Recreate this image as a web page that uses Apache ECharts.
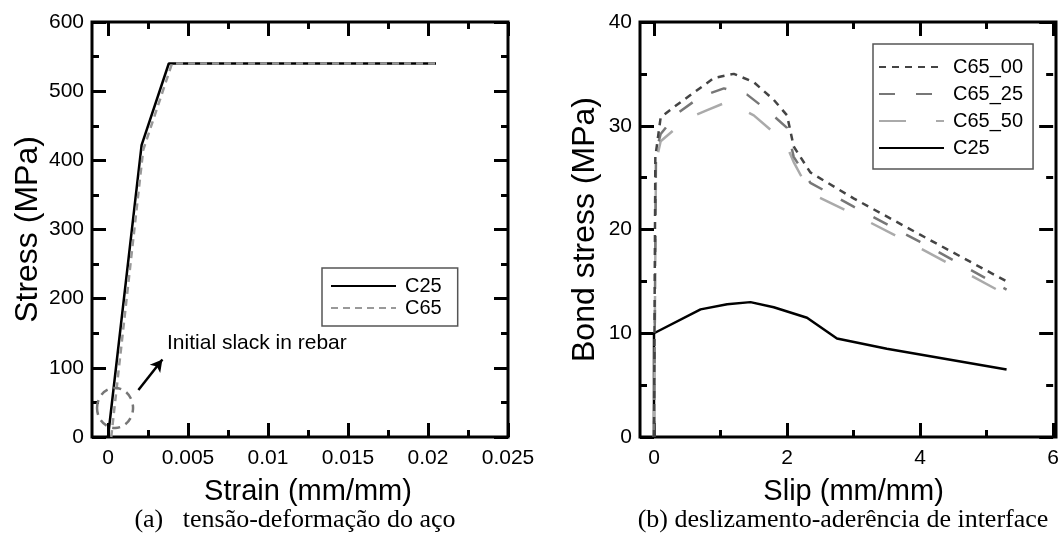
<!DOCTYPE html>
<html><head><meta charset="utf-8">
<script src="https://cdn.jsdelivr.net/npm/echarts@6/dist/echarts.min.js"></script>
<style>html,body{margin:0;padding:0;background:#fff}#c{width:1062px;height:540px}</style>
</head><body><div id="c"></div>
<script>
// ---- (a) steel stress-strain ----
const strainC25 = [0, 0.0021, 0.0038, 0.0205];
const stressC25 = [0, 422, 540, 540];
const strainC65 = [0.0002, 0.0022, 0.0040, 0.0205];
const stressC65 = [0, 415, 540, 540];
const strainTicks = [0, 0.025, 0.005];   // min, max, interval
const stressTicks = [0, 600, 100];
// annotation (data coordinates)
const slackEllipseCenter = [0.00044, 42];
const slackArrow = [[0.0019, 68], [0.0034, 112]];
const slackTextAnchor = [0.00369, 136];
const slackText = 'Initial slack in rebar';

// ---- (b) bond-slip ----
const slip00 = [0, 0.02, 0.1, 0.3, 0.6, 0.9, 1.2, 1.5, 1.8, 2.0, 2.1, 2.35, 3.0, 4.0, 5.3];
const bond00 = [0, 27, 30.8, 31.8, 33.2, 34.6, 35.0, 34.2, 32.5, 31.0, 28.0, 25.5, 23.0, 19.5, 15.0];
const slip25 = [0, 0.03, 0.1, 0.35, 0.7, 1.05, 1.4, 1.7, 2.0, 2.1, 2.35, 3.0, 4.0, 5.3];
const bond25 = [0, 27.5, 29.2, 31.2, 32.8, 33.6, 33.0, 31.5, 29.8, 27.0, 24.5, 22.2, 18.8, 14.2];
const slip50 = [0, 0.03, 0.1, 0.5, 0.8, 1.1, 1.5, 1.9, 2.0, 2.1, 2.35, 3.0, 4.0, 5.3];
const bond50 = [0, 26.5, 28.5, 30.7, 31.5, 32.3, 31.0, 28.8, 28.0, 26.5, 23.5, 21.5, 18.2, 13.7];
const slipC25 = [0, 0, 0.7, 1.1, 1.45, 1.8, 2.3, 2.75, 3.5, 5.3];
const bondC25 = [0, 10, 12.3, 12.8, 13.0, 12.5, 11.5, 9.5, 8.5, 6.5];
const slipTicks = [0, 6, 2];
const bondTicks = [0, 40, 10];

const leftLegend = ['C25', 'C65'];
const rightLegend = ['C65_00', 'C65_25', 'C65_50', 'C25'];
const captionA = '(a)   tensão-deformação do aço';
const captionB = '(b) deslizamento-aderência de interface';

const zip = (xs, ys) => xs.map((x, i) => [x, ys[i]]);
const SANS = '"Liberation Sans", Arial, Helvetica, sans-serif';
const SERIF = '"Liberation Serif", "Times New Roman", serif';

function tickAxis(gridIndex, pos, t, opts) {
  const a = {
    gridIndex, type: 'value', position: pos,
    min: t[0], max: t[1], interval: t[2],
    axisLine: { show: false, onZero: false },
    splitLine: { show: false },
    axisTick: { show: true, inside: true, length: 14, lineStyle: { color: '#000', width: 3 } },
    minorTick: { show: true, splitNumber: 2, length: 7, lineStyle: { color: '#000', width: 3 } },
    axisLabel: { show: false }
  };
  return Object.assign(a, opts || {});
}
const labelStyle = { show: true, color: '#000', fontSize: 21, fontFamily: SANS };
const xNameStyle = { color: '#000', fontSize: 29, fontFamily: SANS };
const yNameStyle = { color: '#000', fontSize: 32, fontFamily: SANS };

const boxGrid = (left, width) => ({ left, top: 22, width, height: 415, show: true, borderColor: '#000', borderWidth: 3, backgroundColor: 'transparent' });

const legendBase = {
  orient: 'vertical', itemWidth: 65, itemHeight: 14,
  borderColor: '#555', borderWidth: 1.5, selectedMode: false,
  itemStyle: { opacity: 0 },
  textStyle: { fontSize: 20, lineHeight: 22, fontFamily: SANS, color: '#000', padding: [0, 0, 0, 4] }
};

const chart = echarts.init(document.getElementById('c'), null, { renderer: 'canvas' });
const option = {
  animation: false,
  backgroundColor: '#fff',
  grid: [
    boxGrid(92, 416),
    { left: 108, top: 22, width: 400, height: 415 },
    boxGrid(640, 416),
    { left: 654, top: 22, width: 402, height: 415 }
  ],
  xAxis: [
    { gridIndex: 0, type: 'value', min: 0, max: 1, show: false },
    tickAxis(1, 'bottom', strainTicks, {
      axisLabel: Object.assign({ margin: 11 }, labelStyle),
      name: 'Strain (mm/mm)', nameLocation: 'middle', nameGap: 40, nameTextStyle: xNameStyle
    }),
    tickAxis(1, 'top', strainTicks),
    { gridIndex: 2, type: 'value', min: 0, max: 1, show: false },
    tickAxis(3, 'bottom', slipTicks, {
      axisLabel: Object.assign({ margin: 11 }, labelStyle),
      name: 'Slip (mm/mm)', nameLocation: 'middle', nameGap: 40, nameTextStyle: xNameStyle
    }),
    tickAxis(3, 'top', slipTicks)
  ],
  yAxis: [
    { gridIndex: 0, type: 'value', min: 0, max: 1, show: false },
    tickAxis(1, 'left', stressTicks, {
      offset: 16,
      axisLabel: Object.assign({ margin: 8 }, labelStyle),
      name: 'Stress (MPa)', nameLocation: 'middle', nameGap: 48, nameTextStyle: yNameStyle
    }),
    tickAxis(1, 'right', stressTicks),
    { gridIndex: 2, type: 'value', min: 0, max: 1, show: false },
    tickAxis(3, 'left', bondTicks, {
      offset: 14,
      axisLabel: Object.assign({ margin: 8 }, labelStyle),
      name: 'Bond stress (MPa)', nameLocation: 'middle', nameGap: 39, nameTextStyle: yNameStyle
    }),
    tickAxis(3, 'right', bondTicks)
  ],
  legend: [
    Object.assign({}, legendBase, { left: 322, top: 268, data: leftLegend, itemGap: 0, padding: [7, 16, 7, 8] }),
    Object.assign({}, legendBase, { left: 873, top: 44, data: rightLegend, itemGap: 5, padding: [12, 10, 10, 5] })
  ],
  series: [
    {
      name: 'C25', type: 'line', xAxisIndex: 1, yAxisIndex: 1, data: zip(strainC25, stressC25),
      symbol: 'none', showSymbol: false, clip: false,
      lineStyle: { color: '#000', width: 2.5, type: 'solid' }, itemStyle: { color: '#000' }
    },
    {
      name: 'C65', type: 'line', xAxisIndex: 1, yAxisIndex: 1, data: zip(strainC65, stressC65),
      symbol: 'none', showSymbol: false, clip: false,
      lineStyle: { color: '#999', width: 2.5, type: [7, 5] }, itemStyle: { color: '#999' },
      markLine: {
        silent: true, symbol: ['none', 'arrow'], symbolSize: [10, 12],
        label: { show: false },
        lineStyle: { color: '#000', width: 2.5, type: 'solid' },
        data: [[{ coord: slackArrow[0] }, { coord: slackArrow[1] }]]
      }
    },
    {
      name: 'C25', type: 'line', xAxisIndex: 4, yAxisIndex: 4, data: zip(slipC25, bondC25),
      symbol: 'none', showSymbol: false, clip: false,
      lineStyle: { color: '#000', width: 2.5, type: 'solid' }, itemStyle: { color: '#000' }
    },
    {
      name: 'C65_50', type: 'line', xAxisIndex: 4, yAxisIndex: 4, data: zip(slip50, bond50),
      symbol: 'none', showSymbol: false, clip: false,
      lineStyle: { color: '#aaa', width: 2.5, type: [27, 30] }, itemStyle: { color: '#aaa' }
    },
    {
      name: 'C65_25', type: 'line', xAxisIndex: 4, yAxisIndex: 4, data: zip(slip25, bond25),
      symbol: 'none', showSymbol: false, clip: false,
      lineStyle: { color: '#777', width: 2.5, type: [16, 21] }, itemStyle: { color: '#777' }
    },
    {
      name: 'C65_00', type: 'line', xAxisIndex: 4, yAxisIndex: 4, data: zip(slip00, bond00),
      symbol: 'none', showSymbol: false, clip: false,
      lineStyle: { color: '#444', width: 2.5, type: [7, 6] }, itemStyle: { color: '#444' }
    }
  ]
};
chart.setOption(option);

const ec = chart.convertToPixel({ gridIndex: 1 }, slackEllipseCenter);
const ta = chart.convertToPixel({ gridIndex: 1 }, slackTextAnchor);
chart.setOption({
  graphic: [
    { type: 'ellipse', shape: { cx: ec[0], cy: ec[1], rx: 18, ry: 20 }, silent: true,
      style: { fill: 'none', stroke: '#777', lineWidth: 2.5, lineDash: [8, 6] }, z: 10 },
    { type: 'text', x: ta[0], y: ta[1], silent: true,
      style: { text: slackText, fill: '#000', font: '21px ' + SANS, textAlign: 'left', textVerticalAlign: 'middle' } },
    { type: 'text', x: 295, y: 520, silent: true,
      style: { text: captionA, fill: '#000', font: '26px ' + SERIF, textAlign: 'center', textVerticalAlign: 'middle' } },
    { type: 'text', x: 843, y: 520, silent: true,
      style: { text: captionB, fill: '#000', font: '26px ' + SERIF, textAlign: 'center', textVerticalAlign: 'middle' } }
  ]
});
</script></body></html>
